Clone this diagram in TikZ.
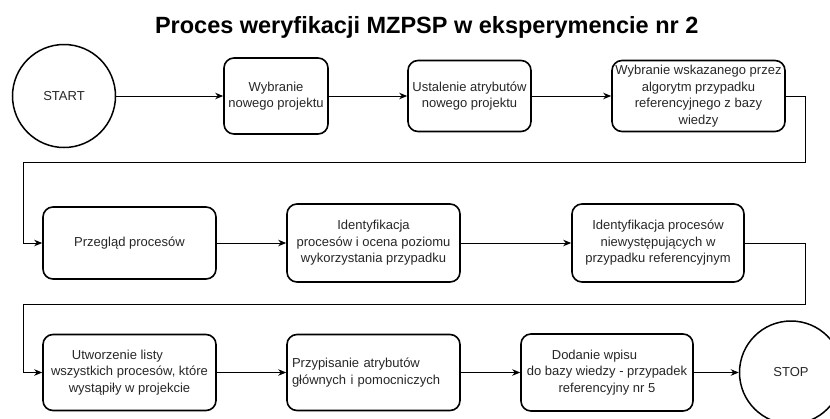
\documentclass[tikz,border=0pt]{standalone}
\usepackage{fontspec}
\setmainfont{Liberation Sans}
\usetikzlibrary{arrows.meta}
\begin{document}
\begin{tikzpicture}[x=1pt,y=-1pt,
  txt/.style={font=\fontsize{13}{16.5}\selectfont, text=black!85},
  box/.style={txt, draw, line width=1.6pt, rounded corners=10pt, align=center, inner sep=2pt},
  term/.style={txt, draw, circle, line width=1.5pt, minimum size=103pt, inner sep=0pt},
  conn/.style={line width=0.9pt, -{Stealth[length=8pt,width=6.5pt,inset=2.5pt]}}]
\useasboundingbox (0,0) rectangle (830,418);

\node[font=\bfseries\fontsize{23.5}{28}\selectfont, anchor=base] (title) at (426.7,33) {Proces weryfikacji MZPSP w eksperymencie nr 2};

% row 1
\node[term] (start) at (64,96) {START};
\node[box, minimum width=104pt, minimum height=76pt] (b1) at (276,96) {Wybranie\\nowego projektu};
\node[box, minimum width=123pt, minimum height=71pt] (b2) at (469.5,96) {Ustalenie atrybutów\\nowego projektu};
\node[box, minimum width=173pt, minimum height=71pt] (b3) at (698.5,96) {Wybranie wskazanego przez\\algorytm przypadku\\referencyjnego z bazy\\wiedzy};

% row 2
\node[box, minimum width=173pt, minimum height=72pt] (b4) at (129.5,243) {Przegląd procesów};
\node[box, minimum width=173pt, minimum height=78pt] (b5) at (373.5,243) {Identyfikacja\\procesów i ocena poziomu\\wykorzystania przypadku};
\node[box, minimum width=172pt, minimum height=78pt] (b6) at (658,243) {Identyfikacja procesów\\niewystępujących w\\przypadku referencyjnym};

% row 3
\node[box, minimum width=173pt, minimum height=76pt] (b7) at (129.5,372.5) {Utworzenie listy\kern24pt\\wszystkich procesów, które\\wystąpiły w projekcie};
\node[box, minimum width=173pt, minimum height=76pt, align=left, text width=163pt, inner xsep=5pt] (b8) at (373.5,372.5) {Przypisanie atrybutów\\głównych i pomocniczych};
\node[box, minimum width=172pt, minimum height=77pt] (b9) at (607,372.5) {Dodanie wpisu\kern25pt\\do bazy wiedzy - przypadek\\referencyjny nr 5};
\node[term] (stop) at (791,372.5) {STOP};

% turn points
\coordinate (r1) at (805,162);
\coordinate (l1) at (23,162);
\coordinate (r2) at (805,304);
\coordinate (l2) at (23,304);

% connectors
\draw[conn] (start) -- (b1);
\draw[conn] (b1) -- (b2);
\draw[conn] (b2) -- (b3);
\draw[conn] (b3.east) -| (r1) -- (l1) |- (b4.west);
\draw[conn] (b4) -- (b5);
\draw[conn] (b5) -- (b6);
\draw[conn] (b6.east) -| (r2) -- (l2) |- (b7.west);
\draw[conn] (b7) -- (b8);
\draw[conn] (b8) -- (b9);
\draw[conn] (b9) -- (stop);
\end{tikzpicture}
\end{document}
